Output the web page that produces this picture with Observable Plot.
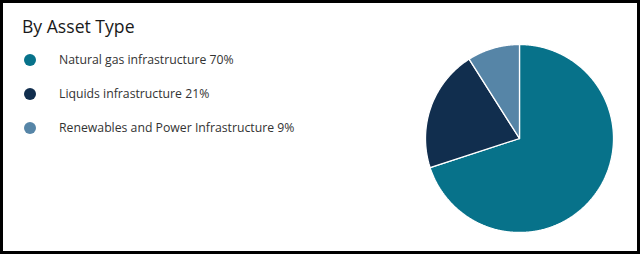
<!DOCTYPE html>
<html>
<head>
<meta charset="utf-8">
<script src="https://cdn.jsdelivr.net/npm/d3@7"></script>
<script src="https://cdn.jsdelivr.net/npm/@observablehq/plot@0.6"></script>
<style>
  html, body { margin: 0; padding: 0; background: #fff; }
  #frame { position: relative; width: 640px; height: 254px; box-sizing: border-box; border: 3px solid #000; background: #fff; font-family: "Open Sans", sans-serif; overflow: hidden; }
  #title { position: absolute; left: 19px; top: 13.5px; font-size: 17.6px; line-height: 18px; color: #1a1a1a; white-space: nowrap; }
  .dot { position: absolute; left: 21px; width: 12px; height: 12px; border-radius: 50%; }
  .lab { position: absolute; left: 56px; font-size: 12.25px; line-height: 12px; color: #333; white-space: nowrap; }
  #pie { position: absolute; left: 413px; top: 32px; }
</style>
</head>
<body>
<div id="frame">
  <div id="title">By Asset Type</div>
  <div id="legend"></div>
  <div id="pie"></div>
</div>
<script>
const titleText = "By Asset Type";
const categories = ["Natural gas infrastructure", "Liquids infrastructure", "Renewables and Power Infrastructure"];
const shares = [70, 21, 9];
const colors = ["#07728a", "#112e4e", "#5685a7"];

document.getElementById("title").textContent = titleText;

// legend
const legend = document.getElementById("legend");
const rowTops = [51, 84.5, 118.5];
categories.forEach((c, i) => {
  const dot = document.createElement("div");
  dot.className = "dot";
  dot.style.top = rowTops[i] + "px";
  dot.style.background = colors[i];
  legend.appendChild(dot);
  const lab = document.createElement("div");
  lab.className = "lab";
  lab.style.top = rowTops[i] + "px";
  lab.textContent = `${c} ${shares[i]}%`;
  legend.appendChild(lab);
});

// pie geometry from data
const arcs = d3.pie().sort(null).value(d => d.value)(categories.map((c, i) => ({name: c, value: shares[i], color: colors[i]})));
const polys = arcs.map(a => {
  const pts = [{x: 0, y: 0}];
  const n = Math.max(2, Math.ceil((a.endAngle - a.startAngle) / (Math.PI / 360)));
  for (let k = 0; k <= n; k++) {
    const t = a.startAngle + (a.endAngle - a.startAngle) * k / n;
    pts.push({x: Math.sin(t), y: Math.cos(t)});
  }
  pts.push({x: 0, y: 0});
  return {color: a.data.color, name: a.data.name, pts};
});

const chart = Plot.plot({
  width: 206,
  height: 206,
  margin: 9,
  x: {domain: [-1, 1], axis: null},
  y: {domain: [-1, 1], axis: null},
  marks: polys.map(p => Plot.line(p.pts, {x: "x", y: "y", fill: p.color, stroke: "#fff", strokeWidth: 1.3, strokeLinejoin: "miter", title: () => p.name}))
});
document.getElementById("pie").appendChild(chart);
</script>
</body>
</html>
